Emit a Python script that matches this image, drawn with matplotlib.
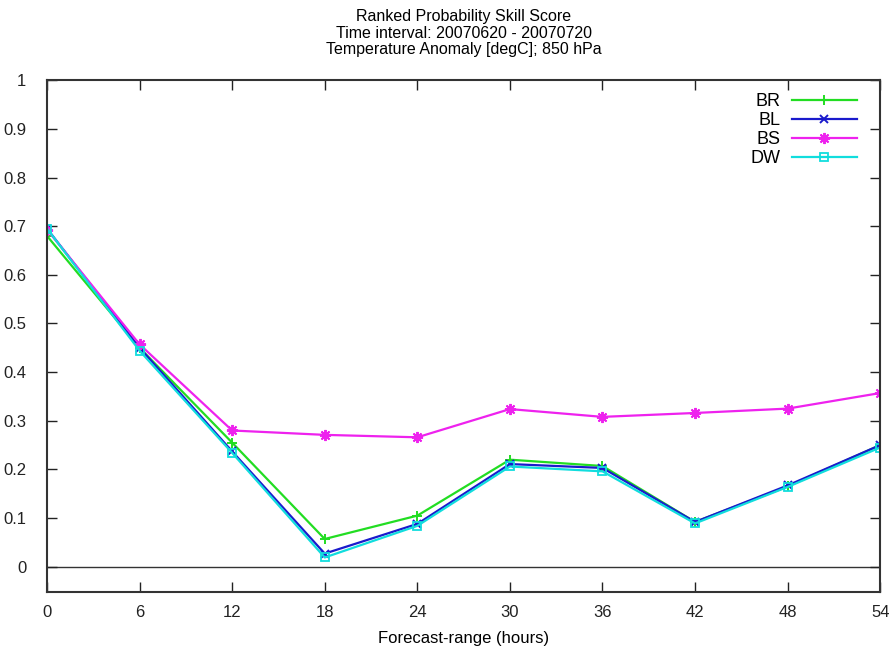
import numpy as np
import matplotlib
matplotlib.use('Agg')
import matplotlib.pyplot as plt

plt.rcParams['font.family'] = ['Liberation Sans Narrow', 'Liberation Sans', 'DejaVu Sans']

# Forecast ranges and RPSS per model
hours = [0, 6, 12, 18, 24, 30, 36, 42, 48, 54]
br = [0.680, 0.450, 0.255, 0.057, 0.105, 0.220, 0.207, 0.092, 0.165, 0.250]
bl = [0.695, 0.450, 0.237, 0.027, 0.088, 0.211, 0.203, 0.092, 0.167, 0.250]
bs = [0.693, 0.457, 0.280, 0.271, 0.266, 0.324, 0.308, 0.316, 0.325, 0.357]
dw = [0.695, 0.444, 0.234, 0.019, 0.084, 0.206, 0.196, 0.089, 0.164, 0.245]

xticks = [0, 6, 12, 18, 24, 30, 36, 42, 48, 54]
yticks = [0, 0.1, 0.2, 0.3, 0.4, 0.5, 0.6, 0.7, 0.8, 0.9, 1]
ylabels = ['0', '0.1', '0.2', '0.3', '0.4', '0.5', '0.6', '0.7', '0.8', '0.9', '1']

fig = plt.figure(figsize=(8.95, 6.52), dpi=100)
ax = fig.add_axes([0.0525, 0.092, 0.931, 0.785])

ax.axhline(0, color='#333333', lw=1.0, zorder=1)

ax.plot(hours, br, color='#22dd22', lw=1.6, marker='+', ms=7, mew=1.4, label='BR')
ax.plot(hours, bl, color='#1a1acc', lw=1.6, marker='x', ms=6, mew=1.4, label='BL')
ax.plot(hours, bs, color='#ee22ee', lw=1.6, marker=(8, 2, 0), ms=8, mew=1.4, label='BS')
ax.plot(hours, dw, color='#11dddd', lw=1.6, marker='s', ms=6, mew=1.3,
        markerfacecolor='none', label='DW')

ax.set_xlim(0, 54)
ax.set_ylim(-0.052, 1)
ax.set_xticks(xticks)
ax.set_yticks(yticks)
ax.set_yticklabels(ylabels)
ax.tick_params(direction='in', length=7, width=1, top=True, right=True,
               labelsize=12, colors='#222222')
ax.tick_params(axis='x', pad=9)
ax.tick_params(axis='y', pad=15)
for s in ax.spines.values():
    s.set_linewidth(1.5)
    s.set_color('#333333')

ax.set_xlabel('Forecast-range (hours)', fontsize=12, labelpad=8)
ax.set_title('Ranked Probability Skill Score\nTime interval: 20070620 - 20070720\n'
             'Temperature Anomaly [degC]; 850 hPa', fontsize=11.5, linespacing=1.1, pad=19)

leg = ax.legend(loc='upper right', bbox_to_anchor=(0.987, 1.0), frameon=False,
                markerfirst=False, fontsize=13, handlelength=3.6, handletextpad=0.6,
                labelspacing=0.12, borderaxespad=0.3)
for t in leg.get_texts():
    t.set_ha('right')

fig.savefig('out.png', dpi=100)
